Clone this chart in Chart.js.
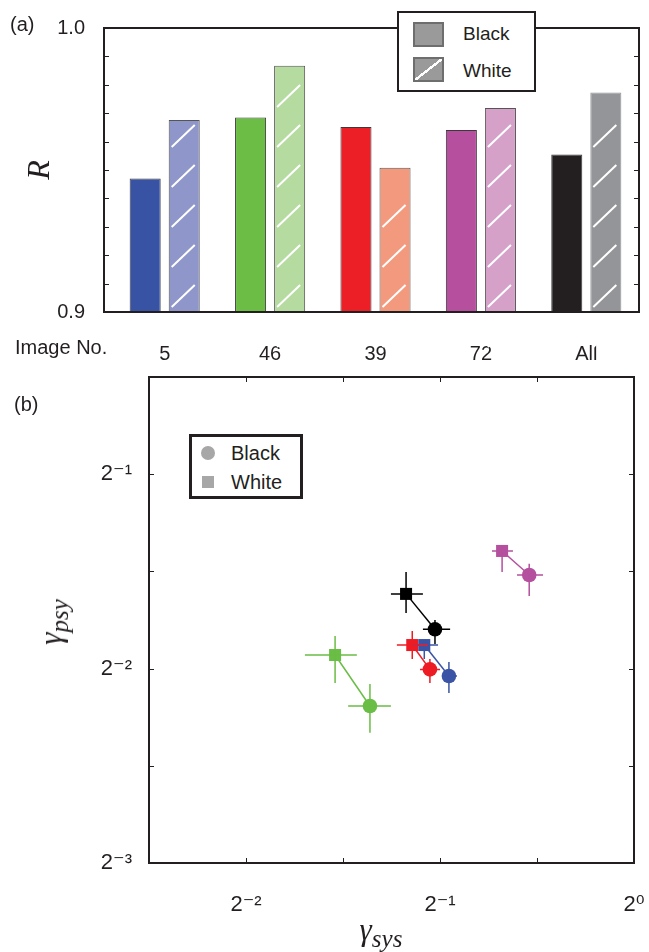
<!DOCTYPE html>
<html>
<head>
<meta charset="utf-8">
<script src="https://cdn.jsdelivr.net/npm/chart.js@4.4.0/dist/chart.umd.min.js"></script>
<style>
    body { margin: 0; background: #fff; }
    #wrap { position: relative; width: 649px; height: 952px; font-family: "Liberation Sans", Arial, sans-serif; color: #231f20; }
    #wrap canvas { position: absolute; left: 0; }
    .lbl { position: absolute; font-size: 20px; line-height: 20px; white-space: nowrap; }
    .box { position: absolute; box-sizing: border-box; background: #fff; }
    .math { position: absolute; font-family: "Liberation Serif", "DejaVu Serif", serif; font-style: italic; font-size: 31px; line-height: 34px; white-space: nowrap; transform: translate(-50%, -50%); }
    .math .sub { font-size: 25px; position: relative; top: 7px; }
</style>
</head>
<body>
<div id="wrap">
    <canvas id="chartA" width="649" height="365" style="top:0"></canvas>
    <canvas id="chartB" width="649" height="587" style="top:365px"></canvas>

    <div class="lbl" style="left:10px;top:14px">(a)</div>
    <div class="lbl" style="left:15px;top:337px">Image No.</div>
    <div class="lbl" style="left:14px;top:394px">(b)</div>

    <!-- legend (a) -->
    <div class="box" style="left:397px;top:11px;width:139px;height:81px;border:2px solid #231f20"></div>
    <div class="box" style="left:413px;top:22px;width:31px;height:25px;background:#9a9a9a;border:2px solid #6e6e6e"></div>
    <div class="box" style="left:413px;top:57px;width:31px;height:25px;background-color:#9a9a9a;border:2px solid #6e6e6e;background-image:linear-gradient(to bottom right, transparent calc(50% - 1.2px), #fff calc(50% - 1.2px), #fff calc(50% + 1.2px), transparent calc(50% + 1.2px))"></div>
    <div class="lbl" style="left:463px;top:24px;font-size:19px">Black</div>
    <div class="lbl" style="left:463px;top:61px;font-size:19px">White</div>

    <!-- legend (b) -->
    <div class="box" style="left:189px;top:434px;width:114px;height:65px;border:3px solid #231f20"></div>
    <div class="box" style="left:201px;top:446px;width:14px;height:14px;border-radius:50%;background:#a7a7a7"></div>
    <div class="box" style="left:202px;top:476px;width:12px;height:12px;background:#a7a7a7"></div>
    <div class="lbl" style="left:231px;top:443px">Black</div>
    <div class="lbl" style="left:231px;top:472px">White</div>

    <!-- axis titles (b) -->
    <div class="math" style="left:381px;top:931px">γ<span class="sub">sys</span></div>
    <div class="math" style="left:52px;top:622px;transform:translate(-50%, -50%) rotate(-90deg)">γ<span class="sub">psy</span></div>
</div>

<script>
// (a) correlation R per image
var imageLabels = ['5', '46', '39', '72', 'All'];
var rBlack = [0.947, 0.9685, 0.9651, 0.9641, 0.9555];
var rWhite = [0.9676, 0.9867, 0.9508, 0.9718, 0.9773];
var rTickLabels = ['0.9', '1.0'];
var blackColors = ['#3953a4', '#6cbd45', '#ec1f27', '#b54f9e', '#231f20'];
var whiteColors = ['#8e96ca', '#b6dba0', '#f39a7e', '#d5a1c9', '#939598'];

// (b) gamma values, same image order
var sysBlack = [0.5162, 0.3893, 0.4823, 0.6877, 0.4911];
var psyBlack = [0.2435, 0.2188, 0.2493, 0.3490, 0.2876];
var sysWhite = [0.4727, 0.3437, 0.4528, 0.6242, 0.4429];
var psyWhite = [0.2719, 0.2624, 0.2719, 0.3803, 0.3263];
var sysBlackLo = [0.5035, 0.3601, 0.4656, 0.6584, 0.4704];
var sysBlackHi = [0.5312, 0.4196, 0.5000, 0.7225, 0.5184];
var psyBlackLo = [0.2291, 0.1988, 0.2375, 0.3238, 0.2730];
var psyBlackHi = [0.2560, 0.2367, 0.2587, 0.3632, 0.2973];
var sysWhiteLo = [0.4541, 0.3086, 0.4286, 0.6021, 0.4196];
var sysWhiteHi = [0.4965, 0.3715, 0.4790, 0.6489, 0.4704];
var psyWhiteLo = [0.2587, 0.2375, 0.2587, 0.3528, 0.3048];
var psyWhiteHi = [0.2768, 0.2809, 0.2858, 0.3885, 0.3528];
var markColors = ['#3b54a5', '#6abd45', '#ed1c24', '#b4509e', '#000000'];
var sysTickExps = [-2.5, -2, -1.5, -1, -0.5, 0];
var psyTickExps = [-3, -2.5, -2, -1.5, -1, -0.5];

var SUP = { '-': '\u207b', '0': '\u2070', '1': '\u00b9', '2': '\u00b2', '3': '\u00b3' };

function powLabel(v) {
    var e = Math.log2(v);
    if (Math.abs(e - Math.round(e)) > 1e-6) {
        return '';
    }
    return '2' + String(Math.round(e)).split('').map(function (c) { return SUP[c]; }).join('');
}

// box around the plot with inward tick marks
var frame = {
    id: 'frame',
    afterDraw: function (chart, args, opts) {
        var a = chart.chartArea;
        var ctx = chart.ctx;
        var left = a.left - (opts.padLeft || 0);
        var len = 5;
        ctx.save();
        ctx.strokeStyle = '#231f20';
        ctx.lineWidth = 1;
        ctx.beginPath();
        if (opts.yTicks) {
            chart.scales.y.ticks.forEach(function (t) {
                var py = Math.round(chart.scales.y.getPixelForValue(t.value)) + 0.5;
                ctx.moveTo(left, py);
                ctx.lineTo(left + len, py);
                ctx.moveTo(a.right, py);
                ctx.lineTo(a.right - len, py);
            });
        }
        if (opts.xTicks) {
            chart.scales.x.ticks.forEach(function (t) {
                var px = Math.round(chart.scales.x.getPixelForValue(t.value)) + 0.5;
                ctx.moveTo(px, a.bottom);
                ctx.lineTo(px, a.bottom - len);
                ctx.moveTo(px, a.top);
                ctx.lineTo(px, a.top + len);
            });
        }
        ctx.stroke();
        ctx.lineWidth = 2;
        ctx.strokeRect(left, a.top, a.right - left, a.bottom - a.top);
        ctx.restore();
    }
};

// white diagonal strokes on the "White" bars
var hatch = {
    id: 'hatch',
    afterDatasetsDraw: function (chart) {
        var ctx = chart.ctx;
        ctx.save();
        ctx.strokeStyle = '#ffffff';
        ctx.lineWidth = 2;
        chart.getDatasetMeta(1).data.forEach(function (bar) {
            var p = bar.getProps(['x', 'y', 'base', 'width'], true);
            var l = p.x - p.width / 2 + 3;
            var r = p.x + p.width / 2 - 5;
            for (var yb = p.base - 1; yb - 22 >= p.y + 3; yb -= 40) {
                ctx.beginPath();
                ctx.moveTo(l, yb);
                ctx.lineTo(r, yb - 22);
                ctx.stroke();
            }
        });
        ctx.restore();
    }
};

var errorBars = {
    id: 'errorBars',
    afterDatasetsDraw: function (chart) {
        var ctx = chart.ctx;
        var xs = chart.scales.x;
        var ys = chart.scales.y;
        ctx.save();
        ctx.lineWidth = 1.5;
        imageLabels.forEach(function (name, i) {
            ctx.strokeStyle = markColors[i];
            [
                [sysWhite[i], psyWhite[i], sysWhiteLo[i], sysWhiteHi[i], psyWhiteLo[i], psyWhiteHi[i]],
                [sysBlack[i], psyBlack[i], sysBlackLo[i], sysBlackHi[i], psyBlackLo[i], psyBlackHi[i]]
            ].forEach(function (s) {
                var px = xs.getPixelForValue(s[0]);
                var py = ys.getPixelForValue(s[1]);
                ctx.beginPath();
                ctx.moveTo(xs.getPixelForValue(s[2]), py);
                ctx.lineTo(xs.getPixelForValue(s[3]), py);
                ctx.moveTo(px, ys.getPixelForValue(s[4]));
                ctx.lineTo(px, ys.getPixelForValue(s[5]));
                ctx.stroke();
            });
        });
        ctx.restore();
    }
};

var tickFont = { family: '"Liberation Sans", Arial, sans-serif', size: 20 };

new Chart(document.getElementById('chartA'), {
    type: 'bar',
    data: {
        labels: imageLabels,
        datasets: [
            { label: 'Black', data: rBlack, backgroundColor: blackColors, borderColor: '#3a3a3a', borderWidth: 1 },
            { label: 'White', data: rWhite, backgroundColor: whiteColors, borderColor: ['#555', '#555', '#555', '#555', '#939598'], borderWidth: 1 }
        ]
    },
    options: {
        responsive: false,
        animation: false,
        events: [],
        layout: { padding: { top: 28, right: 10, left: 0, bottom: 0 } },
        datasets: { bar: { categoryPercentage: 0.741, barPercentage: 0.795 } },
        plugins: {
            legend: { display: false },
            tooltip: { enabled: false },
            frame: { padLeft: 8, yTicks: true }
        },
        scales: {
            x: {
                grid: { display: false },
                border: { display: false },
                ticks: { padding: 22, color: '#231f20', font: tickFont, maxRotation: 0 },
                afterFit: function (s) { s.height = 53; s.paddingLeft = 0; s.paddingRight = 0; }
            },
            y: {
                min: 0.9,
                max: 1.0,
                grid: { display: false },
                border: { display: false },
                ticks: {
                    stepSize: 0.01,
                    autoSkip: false,
                    padding: 19,
                    color: '#231f20',
                    font: tickFont,
                    callback: function (v) {
                        for (var k = 0; k < rTickLabels.length; k++) {
                            if (Math.abs(v - parseFloat(rTickLabels[k])) < 1e-9) {
                                return rTickLabels[k];
                            }
                        }
                        return '';
                    }
                },
                title: {
                    display: true,
                    text: 'R',
                    color: '#231f20',
                    font: { family: '"Liberation Serif", serif', style: 'italic', size: 32 },
                    padding: { top: 21, bottom: 0 }
                },
                afterFit: function (s) { s.width = 112; s.paddingTop = 0; s.paddingBottom = 0; }
            }
        }
    },
    plugins: [hatch, frame]
});

var supFont = { family: '"Liberation Sans", "DejaVu Sans", sans-serif', size: 22 };

new Chart(document.getElementById('chartB'), {
    type: 'scatter',
    data: {
        datasets: imageLabels.map(function (name, i) {
            return {
                label: name,
                data: [{ x: sysWhite[i], y: psyWhite[i] }, { x: sysBlack[i], y: psyBlack[i] }],
                showLine: true,
                borderColor: markColors[i],
                borderWidth: 1.5,
                backgroundColor: markColors[i],
                pointBackgroundColor: markColors[i],
                pointStyle: ['rect', 'circle'],
                pointRadius: [8.5, 7.3],
                pointBorderWidth: 0
            };
        })
    },
    options: {
        responsive: false,
        animation: false,
        events: [],
        layout: { padding: { top: 12, right: 15, left: 0, bottom: 0 } },
        plugins: {
            legend: { display: false },
            tooltip: { enabled: false },
            frame: { xTicks: true, yTicks: true }
        },
        scales: {
            x: {
                type: 'logarithmic',
                min: Math.pow(2, -2.5),
                max: 1,
                grid: { display: false },
                border: { display: false },
                afterBuildTicks: function (s) {
                    s.ticks = sysTickExps.map(function (e) { return { value: Math.pow(2, e) }; });
                },
                ticks: { padding: 21, autoSkip: false, maxRotation: 0, color: '#231f20', font: supFont, callback: powLabel },
                afterFit: function (s) { s.height = 89; s.paddingLeft = 0; s.paddingRight = 0; }
            },
            y: {
                type: 'logarithmic',
                min: Math.pow(2, -3),
                max: Math.pow(2, -0.5),
                grid: { display: false },
                border: { display: false },
                afterBuildTicks: function (s) {
                    s.ticks = psyTickExps.map(function (e) { return { value: Math.pow(2, e) }; });
                },
                ticks: { padding: 9, autoSkip: false, color: '#231f20', font: supFont, callback: powLabel },
                afterFit: function (s) { s.width = 149; s.paddingTop = 0; s.paddingBottom = 0; }
            }
        }
    },
    plugins: [errorBars, frame]
});
</script>
</body>
</html>
